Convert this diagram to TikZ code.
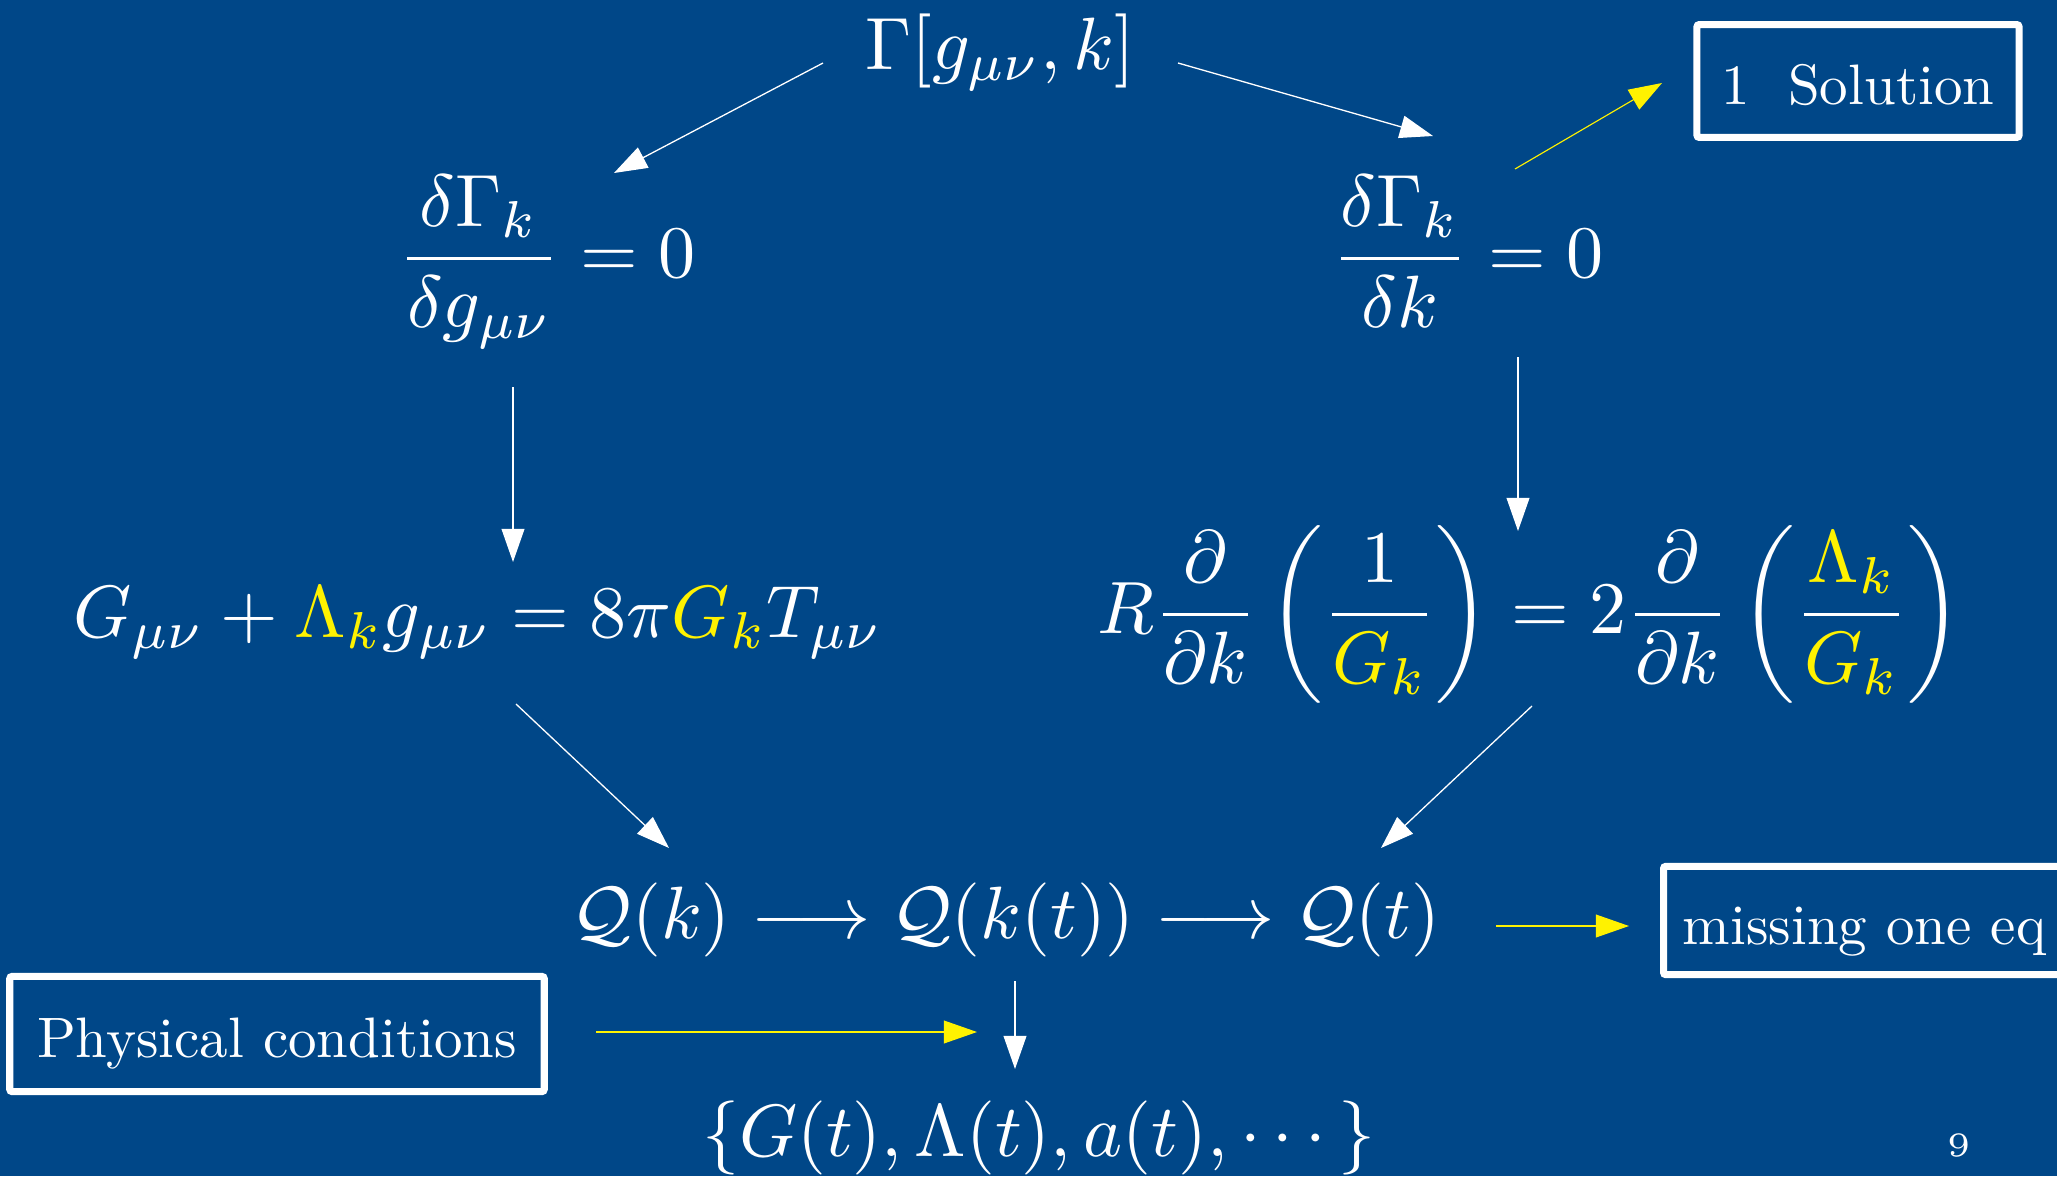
\documentclass[tikz,border=0pt]{standalone}
\usepackage{amsmath}
\usetikzlibrary{arrows.meta}
\definecolor{bgblue}{RGB}{0,71,136}
\tikzset{
  eqn/.style={text=white, inner sep=0pt, scale=1.30},
  txtbox/.style={draw=white, line width=1.23pt, text=white, inner sep=0pt, rounded corners=0.4pt, text height=10.4pt, text depth=2pt},
  warr/.style={draw=white, line width=0.23pt, -{Triangle[length=5.8pt,width=4pt]}},
  yarr/.style={draw=yellow, line width=0.2pt, -{Triangle[length=5.8pt,width=4pt]}},
}
\begin{document}
\begin{tikzpicture}[x=0.1754pt,y=-0.1754pt]
\fill[bgblue] (0,0) rectangle (2057,1176);
\clip (0,0) rectangle (2057,1176);

% equations
\node[eqn, anchor=base] (gam) at (1000,69) {$\Gamma[g_{\mu\nu},k]$};
\node[eqn, anchor=base] (leq) at (547,277) {$\displaystyle\frac{\delta\Gamma_k}{\delta g_{\mu\nu}}=0$};
\node[eqn, anchor=base] (req) at (1468,277) {$\displaystyle\frac{\delta\Gamma_k}{\delta k}=0$};
\node[eqn, anchor=base] (geq) at (478,637) {$G_{\mu\nu}+{\color{yellow}\Lambda_k}g_{\mu\nu}=8\pi{\color{yellow}G_k}T_{\mu\nu}$};
\node[eqn, anchor=base] (keq) at (1530,633) {$\displaystyle R\frac{\partial}{\partial k}\left(\frac{1}{\color{yellow}G_k}\right)=2\frac{\partial}{\partial k}\left(\frac{\color{yellow}\Lambda_k}{\color{yellow}G_k}\right)$};
\node[eqn, anchor=base] (qrow) at (1006,938) {$\mathcal{Q}(k)\longrightarrow\mathcal{Q}(k(t))\longrightarrow\mathcal{Q}(t)$};
\node[eqn, anchor=base] (set) at (1039,1156) {$\{G(t),\Lambda(t),a(t),\cdots\}$};

% boxes
\node[txtbox, minimum width=56.5pt, minimum height=19.8pt] (sol) at (1858,81) {1\ \ Solution};
\node[txtbox, minimum width=70.5pt, minimum height=19.0pt] (miss) at (1864.5,920.5) {missing one eq};
\node[txtbox, minimum width=93.75pt, minimum height=20.2pt] (phys) at (277,1034) {Physical conditions};

% page number
\node[text=white, inner sep=0pt, font=\tiny, scale=1.2] (pg) at (1959,1145) {9};

% connector end points
\coordinate (a1s) at (823,63);   \coordinate (a1e) at (614,173);
\coordinate (a2s) at (1178,63);  \coordinate (a2e) at (1433,136);
\coordinate (y1s) at (1515,169); \coordinate (y1e) at (1662,83);
\coordinate (a3s) at (513,387);  \coordinate (a3e) at (513,562);
\coordinate (a4s) at (1518,357); \coordinate (a4e) at (1518,531);
\coordinate (a5s) at (516,704);  \coordinate (a5e) at (669,848);
\coordinate (a6s) at (1532,706); \coordinate (a6e) at (1381,848);
\coordinate (y2s) at (1496,926); \coordinate (y2e) at (1629,926);
\coordinate (y3s) at (596,1032); \coordinate (y3e) at (977,1032);
\coordinate (a7s) at (1015,981); \coordinate (a7e) at (1015,1069);

\draw[warr] (a1s) -- (a1e);
\draw[warr] (a2s) -- (a2e);
\draw[yarr] (y1s) -- (y1e);
\draw[warr] (a3s) -- (a3e);
\draw[warr] (a4s) -- (a4e);
\draw[warr] (a5s) -- (a5e);
\draw[warr] (a6s) -- (a6e);
\draw[yarr] (y2s) -- (y2e);
\draw[yarr] (y3s) -- (y3e);
\draw[warr] (a7s) -- (a7e);
\end{tikzpicture}
\end{document}
